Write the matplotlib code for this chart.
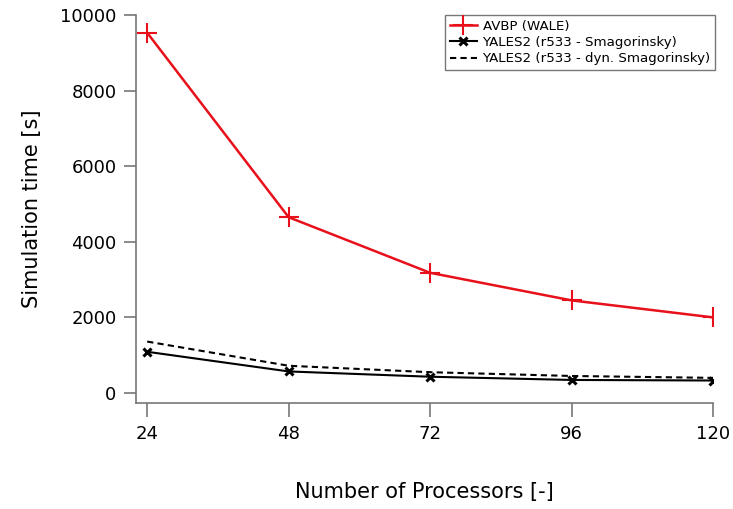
import matplotlib
matplotlib.use("Agg")
import matplotlib.pyplot as plt

procs = [24, 48, 72, 96, 120]
avbp = [9530, 4650, 3180, 2450, 2000]
yales_smag = [1090, 570, 430, 345, 330]
yales_dyn = [1360, 720, 550, 450, 400]

plt.rcParams['font.family'] = ['DejaVu Sans']
fig = plt.figure(figsize=(7.33, 5.09), dpi=100)
ax = fig.add_axes([136/733, 1-403/509, (713-136)/733, (403-15)/509])

ax.plot(procs, avbp, color='#e8101a', lw=1.8, marker='+', ms=14, mew=1.5, label='AVBP (WALE)')
ax.plot(procs, yales_smag, color='black', lw=1.5, marker='x', ms=6, mew=2.2, label='YALES2 (r533 - Smagorinsky)')
ax.plot(procs, yales_dyn, color='black', lw=1.5, ls=(0, (3, 2)), label='YALES2 (r533 - dyn. Smagorinsky)')

ax.set_xlim(22.1, 120)
ax.set_ylim(-265, 10000)
ax.set_xticks(procs)
ax.set_yticks([0, 2000, 4000, 6000, 8000, 10000])
for s in ['top', 'right']:
    ax.spines[s].set_visible(False)
for s in ['left', 'bottom']:
    ax.spines[s].set_color('#777777')
    ax.spines[s].set_linewidth(1.2)
ax.tick_params(axis='x', direction='out', length=10, width=1.2, color='#777777', labelsize=13, pad=6)
ax.tick_params(axis='y', direction='out', length=9, width=1.2, color='#777777', labelsize=13, pad=5)
ax.set_ylabel('Simulation time [s]', fontsize=15, labelpad=13)
ax.set_xlabel('Number of Processors [-]', fontsize=15, labelpad=28)

leg = ax.legend(loc='upper right', bbox_to_anchor=(1.004, 1.0), fontsize=9.6, frameon=True, fancybox=False,
                edgecolor='#555555', borderpad=0.35, labelspacing=0.25, handlelength=2.0, handletextpad=0.45,
                borderaxespad=0.0)
leg.get_frame().set_linewidth(1.0)

fig.savefig('out.png', dpi=100)
